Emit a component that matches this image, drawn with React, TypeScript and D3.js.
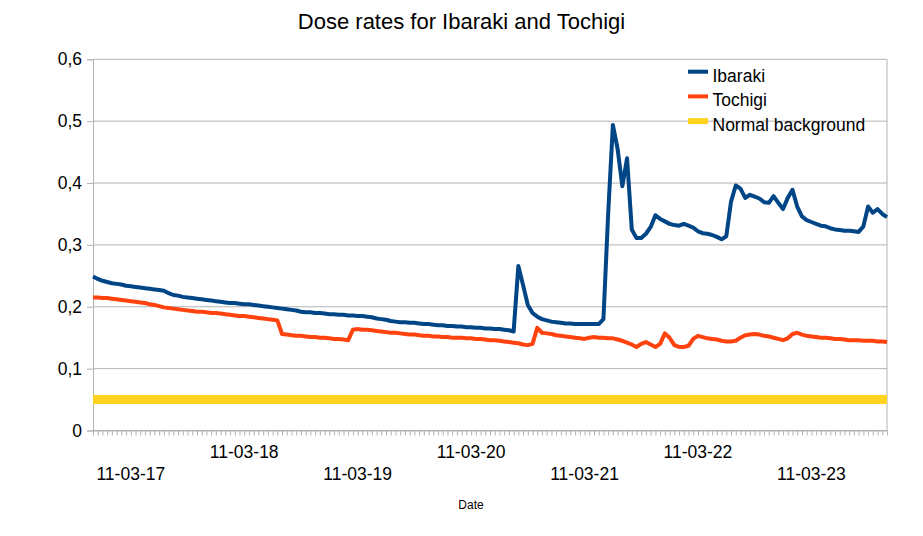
import React, { useEffect, useRef } from "react";
import * as d3 from "d3";

// hourly readings, first category 2011-03-16 16:00
const startHour = new Date(2011, 2, 16, 16);

const ibaraki = [
  0.249, 0.245, 0.242, 0.24, 0.238, 0.237, 0.236, 0.234, 0.233, 0.232,
  0.231, 0.23, 0.229, 0.228, 0.227, 0.226, 0.222, 0.219, 0.218, 0.216,
  0.215, 0.214, 0.213, 0.212, 0.211, 0.21, 0.209, 0.208, 0.207, 0.206,
  0.206, 0.205, 0.204, 0.204, 0.203, 0.202, 0.201, 0.2, 0.199, 0.198,
  0.197, 0.196, 0.195, 0.194, 0.192, 0.191, 0.191, 0.19, 0.19, 0.189,
  0.188, 0.188, 0.187, 0.187, 0.186, 0.186, 0.185, 0.185, 0.184, 0.183,
  0.181, 0.18, 0.179, 0.177, 0.176, 0.175, 0.175, 0.174, 0.174, 0.173,
  0.172, 0.172, 0.171, 0.17, 0.17, 0.169, 0.169, 0.168, 0.168, 0.167,
  0.167, 0.166, 0.166, 0.165, 0.165, 0.164, 0.164, 0.163, 0.162, 0.16,
  0.266, 0.235, 0.203, 0.19, 0.184, 0.18, 0.178, 0.176, 0.175, 0.174,
  0.173, 0.173, 0.172, 0.172, 0.172, 0.172, 0.172, 0.172, 0.18, 0.35,
  0.494, 0.455, 0.395, 0.44, 0.325, 0.311, 0.311, 0.318, 0.329, 0.348,
  0.342, 0.338, 0.334, 0.332, 0.331, 0.334, 0.331, 0.328, 0.322, 0.319,
  0.318, 0.316, 0.313, 0.309, 0.314, 0.37, 0.396, 0.391, 0.376, 0.381,
  0.378, 0.375, 0.369, 0.368, 0.379, 0.368, 0.358, 0.376, 0.389, 0.362,
  0.346, 0.34, 0.337, 0.334, 0.331, 0.33, 0.327, 0.325, 0.324, 0.323,
  0.323, 0.322, 0.321, 0.33, 0.362, 0.352, 0.358, 0.35, 0.345,
];

const tochigi = [
  0.215, 0.215, 0.214, 0.214, 0.213, 0.212, 0.211, 0.21, 0.209, 0.208,
  0.207, 0.206, 0.204, 0.203, 0.201, 0.199, 0.198, 0.197, 0.196, 0.195,
  0.194, 0.193, 0.192, 0.192, 0.191, 0.19, 0.19, 0.189, 0.188, 0.187,
  0.186, 0.185, 0.185, 0.184, 0.183, 0.182, 0.181, 0.18, 0.179, 0.178,
  0.156, 0.155, 0.154, 0.153, 0.153, 0.152, 0.151, 0.151, 0.15, 0.15,
  0.149, 0.148, 0.148, 0.147, 0.146, 0.163, 0.164, 0.163, 0.163, 0.162,
  0.161, 0.16, 0.159, 0.158, 0.158, 0.157, 0.156, 0.155, 0.155, 0.154,
  0.153, 0.153, 0.152, 0.152, 0.151, 0.151, 0.15, 0.15, 0.15, 0.149,
  0.149, 0.148, 0.148, 0.147, 0.146, 0.146, 0.145, 0.144, 0.143, 0.142,
  0.141, 0.139, 0.138, 0.14, 0.166, 0.158, 0.157, 0.156, 0.154, 0.153,
  0.152, 0.151, 0.15, 0.149, 0.148, 0.15, 0.151, 0.15, 0.15, 0.149,
  0.149, 0.147, 0.145, 0.142, 0.139, 0.135, 0.14, 0.143, 0.139, 0.135,
  0.14, 0.157, 0.15, 0.138, 0.135, 0.135, 0.137, 0.148, 0.153, 0.151,
  0.149, 0.148, 0.147, 0.145, 0.144, 0.144, 0.145, 0.15, 0.154, 0.155,
  0.156, 0.155, 0.153, 0.152, 0.15, 0.148, 0.146, 0.149, 0.156, 0.158,
  0.155, 0.153, 0.152, 0.151, 0.15, 0.15, 0.149, 0.148, 0.148, 0.147,
  0.146, 0.146, 0.146, 0.145, 0.145, 0.145, 0.144, 0.144, 0.143,
];

const normalBackground = 0.05;

const yTicks = [0, 0.1, 0.2, 0.3, 0.4, 0.5, 0.6];

const seriesNames = ["Ibaraki", "Tochigi", "Normal background"];
const seriesColors = ["#004586", "#ff420e", "#ffd320"];

const App: React.FC = () => {
  const svgRef = useRef<SVGSVGElement>(null);

  useEffect(() => {
    const svg = d3.select(svgRef.current).attr("width", 923).attr("height", 536);
    svg.selectAll("*").remove();

    const font = "'Liberation Sans', Arial, sans-serif";
    const left = 93;
    const right = 887;
    const top = 59.3;
    const bottom = 430.5;

    const hours = d3.timeHour.range(startHour, d3.timeHour.offset(startHour, ibaraki.length));
    const days = d3.timeDay.range(hours[0], hours[hours.length - 1]);

    const x = d3.scaleTime().domain([hours[0], hours[hours.length - 1]]).range([left, right]);
    const y = d3.scaleLinear().domain([0, 0.6]).range([bottom, top]);

    svg.append("rect").attr("width", 923).attr("height", 536).attr("fill", "#fff");

    // grid
    svg
      .append("g")
      .selectAll("line")
      .data(yTicks)
      .join("line")
      .attr("x1", left)
      .attr("x2", right)
      .attr("y1", (d) => y(d))
      .attr("y2", (d) => y(d))
      .attr("stroke", "#b3b3b3")
      .attr("stroke-width", 1);

    svg
      .append("line")
      .attr("x1", right)
      .attr("x2", right)
      .attr("y1", top)
      .attr("y2", bottom)
      .attr("stroke", "#b3b3b3");

    // y axis
    const fmt = d3.format(".1f");
    const yAxis = d3
      .axisLeft(y)
      .tickValues(yTicks)
      .tickSize(6)
      .tickPadding(5)
      .tickFormat((d) => (+d === 0 ? "0" : fmt(+d).replace(".", ",")));
    const gy = svg.append("g").attr("transform", `translate(${left},0)`).call(yAxis);
    gy.select(".domain").attr("stroke", "#b3b3b3");
    gy.selectAll(".tick line").attr("stroke", "#b3b3b3");
    gy.selectAll(".tick text")
      .attr("font-family", font)
      .attr("font-size", "17.5px")
      .attr("fill", "#000");

    // x axis with a tick per hour
    const xAxis = d3
      .axisBottom(x)
      .tickValues(hours)
      .tickSize(5)
      .tickSizeOuter(0)
      .tickFormat(() => "");
    const gx = svg.append("g").attr("transform", `translate(0,${bottom})`).call(xAxis);
    gx.select(".domain").attr("stroke", "#b3b3b3");
    gx.selectAll(".tick line").attr("stroke", "#b3b3b3");

    const dayFmt = d3.timeFormat("%y-%m-%d");
    svg
      .append("g")
      .selectAll("text")
      .data(days)
      .join("text")
      .attr("x", (d) => x(d))
      .attr("y", (d, i) => (i % 2 === 0 ? 480 : 458.3))
      .attr("text-anchor", "middle")
      .attr("font-family", font)
      .attr("font-size", "17.5px")
      .attr("fill", "#000")
      .text((d) => dayFmt(d));

    // series
    const line = d3
      .line<number>()
      .x((d, i) => x(hours[i]))
      .y((d) => y(d));

    svg
      .append("line")
      .attr("x1", x(hours[0]))
      .attr("x2", x(hours[hours.length - 1]))
      .attr("y1", y(normalBackground))
      .attr("y2", y(normalBackground))
      .attr("stroke", seriesColors[2])
      .attr("stroke-width", 9);

    [tochigi, ibaraki].forEach((data) => {
      svg
        .append("path")
        .datum(data)
        .attr("d", line)
        .attr("fill", "none")
        .attr("stroke", data === ibaraki ? seriesColors[0] : seriesColors[1])
        .attr("stroke-width", 4)
        .attr("stroke-linejoin", "round");
    });

    // legend
    const legend = svg.append("g").attr("transform", "translate(688,0)");
    seriesNames.forEach((name, i) => {
      const base = 81.7 + i * 24.7;
      legend
        .append("line")
        .attr("x1", 0)
        .attr("x2", 20)
        .attr("y1", base - 10)
        .attr("y2", base - 10)
        .attr("stroke", seriesColors[i])
        .attr("stroke-width", i === 2 ? 6 : 4);
      legend
        .append("text")
        .attr("x", 24.5)
        .attr("y", base)
        .attr("font-family", font)
        .attr("font-size", "17.5px")
        .attr("fill", "#000")
        .text(name);
    });

    // titles
    svg
      .append("text")
      .attr("x", 461.5)
      .attr("y", 28.5)
      .attr("text-anchor", "middle")
      .attr("font-family", font)
      .attr("font-size", "22px")
      .attr("fill", "#000")
      .text("Dose rates for Ibaraki and Tochigi");

    svg
      .append("text")
      .attr("x", 471)
      .attr("y", 509)
      .attr("text-anchor", "middle")
      .attr("font-family", font)
      .attr("font-size", "12px")
      .attr("fill", "#000")
      .text("Date");
  });

  return (
    <>
      <svg ref={svgRef} style={{ position: "absolute", left: 0, top: 0 }}></svg>
    </>
  );
};

export default App;
